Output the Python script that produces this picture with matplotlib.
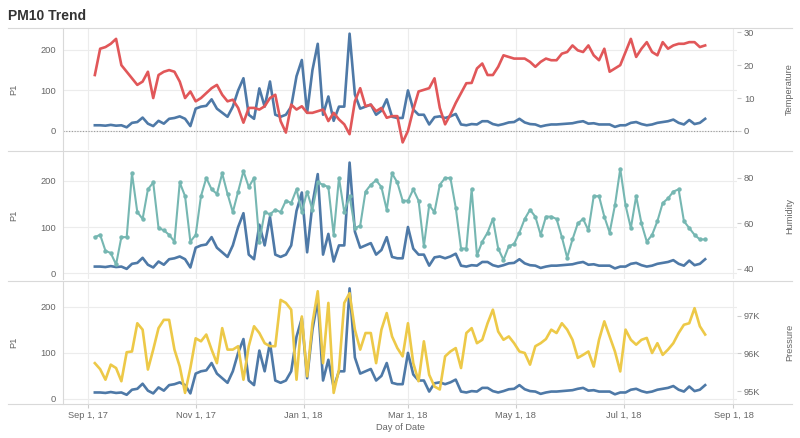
import matplotlib
matplotlib.use("Agg")
import matplotlib.pyplot as plt
import matplotlib.dates as mdates
from matplotlib.lines import Line2D
from matplotlib.ticker import FuncFormatter
import pandas as pd

plt.rcParams['font.family'] = ['Liberation Sans', 'DejaVu Sans']

# values read every 3 days, starting Sep 5, 2017
p1 = [14, 14, 13, 15, 13, 14, 9, 20, 22, 33, 18, 12, 25, 18, 30, 32, 36, 30, 12, 55,
      60, 62, 78, 55, 45, 35, 60, 100, 130, 40, 30, 105, 60, 122, 40, 35, 40, 60, 135, 175,
      45, 150, 215, 40, 85, 25, 60, 60, 240, 90, 55, 60, 65, 40, 50, 78, 35, 32,
      32, 100, 53, 40, 40, 16, 34, 36, 32, 36, 42, 16, 14, 17, 16, 24, 24, 17, 14, 17,
      21, 22, 30, 21, 17, 16, 11, 14, 16, 16, 17, 18, 19, 22, 24, 18, 19, 16, 16, 16,
      10, 14, 14, 20, 22, 17, 14, 16, 20, 22, 24, 28, 20, 16, 27, 17, 20, 30]

temperature = [17, 25, 25.5, 26.5, 28, 20, 18, 16, 14, 15, 18, 10, 17, 18, 18.5, 18, 15, 10, 12, 9,
               10, 11.5, 13, 14, 11, 9, 9.5, 7, 2.5, 7, 7, 6.5, 7.5, 10, 11, 3, -0.5, 8, 6.5, 7.5,
               5.5, 5.5, 6, 6.5, 3, 5.5, 3.5, 2, -1, 9, 13, 7.5, 8, 6, 7, 4, 4.5, 4.5,
               -3.5, 0, 6.5, 12, 12.5, 13, 16, 7, 2, 5, 8.5, 11.5, 14.5, 14.6, 19, 20.5, 17, 17, 19.5, 23,
               22.5, 22, 22, 22, 21, 19.5, 21, 22, 21.5, 21.5, 23.5, 24, 26, 24.5, 24, 26, 23, 21.5, 25, 18,
               19, 20, 24, 28, 22.5, 25, 27, 24, 23, 27, 25, 26, 26.5, 26.5, 27, 27, 25.5, 26]

humidity = [54, 55, 48, 47, 42, 54, 54, 82, 65, 62, 75, 78, 58, 57, 55, 52, 78, 72, 52, 55,
            72, 80, 75, 73, 82, 73, 65, 74, 83, 76, 80, 52, 65, 64, 66, 65, 70, 69, 75, 65,
            74, 66, 78, 77, 76, 55, 80, 65, 72, 58, 59, 74, 77, 79, 76, 66, 82, 78,
            70, 70, 75, 70, 50, 68, 65, 77, 80, 80, 67, 49, 49, 75, 46, 52, 56, 62, 49, 44,
            50, 51, 56, 62, 66, 63, 55, 63, 63, 62, 54, 45, 53, 60, 62, 57, 72, 72, 63, 56,
            68, 84, 68, 58, 72, 60, 52, 55, 61, 69, 71, 74, 75, 61, 58, 55, 53, 53]

pressure = [95740, 95580, 95300, 95700, 95610, 95260, 96030, 96050, 96800, 96630,
            95570, 96100, 96670, 96890, 96890, 96100, 95650, 94950, 95610, 96400,
            96320, 96500, 96100, 95740, 96670, 96100, 96100, 96190, 95300, 96190,
            96720, 96540, 96270, 96190, 96190, 97420, 97340, 97160, 95300, 96980,
            95390, 96800, 97650, 95740, 97340, 94950, 95570, 97340, 97600, 96630,
            96100, 96540, 96540, 95740, 96630, 97070, 96450, 96140,
            95920, 96800, 95740, 95260, 96320, 95430, 95120, 95040, 95920, 96050,
            96140, 95610, 96540, 96670, 96270, 96360, 96800, 97160, 96580, 96360,
            96450, 96270, 96050, 96010, 95700, 96190, 96270, 96380, 96630, 96540,
            96800, 96630, 96360, 95880, 95960, 96050, 95650, 96360, 96850, 96450,
            96050, 95520, 96630, 96360, 96230, 96360, 96410, 96010, 96270, 95960,
            96100, 96270, 96540, 96760, 96800, 97200, 96720, 96500]

dates = pd.date_range('2017-09-05', periods=len(p1), freq='3D')
month_ticks = pd.to_datetime(['2017-09-01', '2017-11-01', '2018-01-01', '2018-03-01',
                              '2018-05-01', '2018-07-01', '2018-09-01'])

BLUE = '#4e79a7'
GREY = '#666666'
W, H = 800, 438


def fy(px):
    return 1 - px / H


def date_label(x, pos):
    d = mdates.num2date(x)
    return d.strftime('%b ') + str(d.day) + d.strftime(', %y')


fig = plt.figure(figsize=(8, 4.38), dpi=100)
fig.text(8 / W, fy(16), 'PM10 Trend', fontsize=10, weight='bold', color='#333333',
         va='center', ha='left')
for y in [28, 151, 281, 404]:
    fig.add_artist(Line2D([8 / W, 792 / W], [fy(y), fy(y)], color='#d9d9d9', lw=0.8))

panels = [
    dict(top=28, bot=150, data=temperature, color='#e15759', ylim=(-47, 254), rlim=(-5.8, 31.3),
         rticks=[0, 10, 20, 30], label='Temperature', marker=None, fmt=None),
    dict(top=152, bot=279, data=humidity, color='#76b7b2', ylim=(-13, 263), rlim=(35.6, 91.4),
         rticks=[40, 60, 80], label='Humidity', marker='o', fmt=None),
    dict(top=281, bot=404, data=pressure, color='#edc948', ylim=(-11, 256), rlim=(94655, 97922),
         rticks=[95000, 96000, 97000], label='Pressure', marker=None,
         fmt=FuncFormatter(lambda v, p: f'{v / 1000:.0f}K')),
]

for k, pn in enumerate(panels):
    ax = fig.add_axes([63 / W, fy(pn['bot']), 674 / W, (pn['bot'] - pn['top']) / H])
    ax.plot(dates, p1, color=BLUE, lw=1.9, solid_joinstyle='round')
    ax.set_ylim(*pn['ylim'])
    ax.set_yticks([0, 100, 200])
    ax.set_xlim(pd.Timestamp('2017-08-18'), pd.Timestamp('2018-09-03'))
    ax.set_xticks(month_ticks)
    ax.grid(color='#ececec', lw=0.8)
    ax.set_axisbelow(True)
    for s in ['top', 'right', 'bottom']:
        ax.spines[s].set_visible(False)
    ax.spines['left'].set_color('#d9d9d9')
    ax.tick_params(axis='y', length=0, labelsize=6.7, labelcolor=GREY, pad=5)
    ax.set_ylabel('P1', fontsize=6.7, color=GREY)
    ax.yaxis.set_label_coords(-0.067, 0.5)
    if k == 0:
        ax.axhline(0, color='#9a9a9a', lw=0.8, ls=(0, (1, 1.5)))

    ax2 = ax.twinx()
    if pn['marker']:
        ax2.plot(dates, pn['data'], color=pn['color'], lw=1.5, marker='o', ms=3.2, mew=0)
    else:
        ax2.plot(dates, pn['data'], color=pn['color'], lw=1.9, solid_joinstyle='round')
    ax2.set_ylim(*pn['rlim'])
    ax2.set_yticks(pn['rticks'])
    if pn['fmt']:
        ax2.yaxis.set_major_formatter(pn['fmt'])
    for s in ax2.spines.values():
        s.set_visible(False)
    ax2.tick_params(axis='y', length=3, color='#cccccc', labelsize=6.7, labelcolor=GREY, pad=2)
    ax2.set_ylabel(pn['label'], fontsize=6.7, color=GREY)
    ax2.yaxis.set_label_coords(1.071, 0.5)

    if k == 2:
        ax.xaxis.set_major_formatter(FuncFormatter(date_label))
        ax.tick_params(axis='x', length=3, color='#cccccc', labelsize=6.7, labelcolor=GREY, pad=2)
        ax.set_xlabel('Day of Date', fontsize=6.7, color=GREY, labelpad=2)
    else:
        ax.tick_params(axis='x', length=0, labelbottom=False)

fig.savefig('out.png', dpi=100)
